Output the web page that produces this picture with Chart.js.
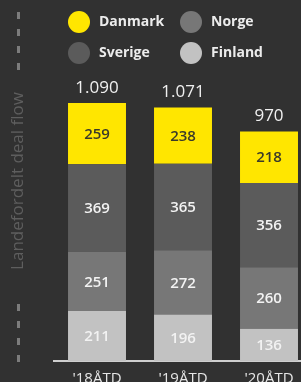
<!DOCTYPE html>
<html>
<head>
<meta charset="utf-8">
<script src="https://cdn.jsdelivr.net/npm/chart.js@4/dist/chart.umd.min.js"></script>
<style>
  html, body { margin: 0; padding: 0; background: #313131; overflow: hidden; }
  #wrap { position: relative; width: 312px; height: 397px; }
</style>
</head>
<body>
<div id="wrap"><canvas id="dealChart"></canvas></div>
<script>
// Landefordelt deal flow, antal transaktioner pr. land
const periods = ["'18ÅTD", "'19ÅTD", "'20ÅTD"];
const finland = [211, 196, 136];
const norge   = [251, 272, 260];
const sverige = [369, 365, 356];
const danmark = [259, 238, 218];
const totals  = ["1.090", "1.071", "970"];

const colors = {
    Danmark: "#ffe600",
    Norge: "#777777",
    Sverige: "#5b5b5b",
    Finland: "#c2c2c2"
};

const legendOrder = ["Danmark", "Norge", "Sverige", "Finland"];

// Tekst i segmenter + totaler over søjlerne
const labelPlugin = {
    id: "labels",
    afterDatasetsDraw(chart) {
        const ctx = chart.ctx;
        ctx.save();
        ctx.textAlign = "center";
        ctx.textBaseline = "middle";
        chart.data.datasets.forEach((ds, i) => {
            const meta = chart.getDatasetMeta(i);
            meta.data.forEach((bar, j) => {
                const mid = (bar.y + bar.base) / 2;
                ctx.fillStyle = ds.label === "Danmark" ? "#3a3a2a" : "#f2f2f2";
                ctx.font = "600 15px 'Open Sans'";
                ctx.fillText(ds.data[j], bar.x, mid + 1);
            });
        });
        const top = chart.getDatasetMeta(chart.data.datasets.length - 1);
        top.data.forEach((bar, j) => {
            ctx.fillStyle = "#f0f0f0";
            ctx.font = "17px 'Open Sans'";
            ctx.fillText(totals[j], bar.x, bar.y - 15);
        });
        ctx.restore();
    }
};

// Legende i to kolonner + lodret aksetitel med stiplede linjer
const framePlugin = {
    id: "frame",
    afterDraw(chart) {
        const ctx = chart.ctx;
        ctx.save();
        legendOrder.forEach((name, k) => {
            const cx = k % 2 === 0 ? 79 : 191;
            const cy = k < 2 ? 22 : 53;
            ctx.fillStyle = colors[name];
            ctx.beginPath();
            ctx.arc(cx, cy, 11, 0, Math.PI * 2);
            ctx.fill();
            ctx.fillStyle = "#ececec";
            ctx.font = "bold 14px 'Open Sans'";
            ctx.textAlign = "left";
            ctx.textBaseline = "middle";
            ctx.fillText(name, cx + 20, cy);
        });
        ctx.restore();

        ctx.save();
        ctx.translate(18, 181);
        ctx.rotate(-Math.PI / 2);
        ctx.fillStyle = "#5e5e5e";
        ctx.font = "17px 'Open Sans'";
        ctx.textAlign = "center";
        ctx.textBaseline = "middle";
        ctx.fillText("Landefordelt deal flow", 0, 0);
        ctx.restore();

        // stiplede linjer over og under titlen
        ctx.save();
        ctx.fillStyle = "#7c7c7c";
        [12, 304].forEach(start => {
            for (let y = start; y < start + 54; y += 17) {
                ctx.fillRect(17, y, 3, 7);
            }
        });
        ctx.restore();
    }
};

new Chart(document.getElementById("dealChart"), {
    type: "bar",
    data: {
        labels: periods,
        datasets: [
            { label: "Finland", data: finland, backgroundColor: colors.Finland },
            { label: "Norge", data: norge, backgroundColor: colors.Norge },
            { label: "Sverige", data: sverige, backgroundColor: colors.Sverige },
            { label: "Danmark", data: danmark, backgroundColor: colors.Danmark }
        ]
    },
    options: {
        responsive: true,
        maintainAspectRatio: false,
        animation: false,
        layout: { padding: { left: 54, right: 0, top: 77, bottom: 0 } },
        datasets: {
            bar: { barPercentage: 0.674, categoryPercentage: 1, borderWidth: 0 }
        },
        plugins: {
            legend: { display: false },
            tooltip: { enabled: false }
        },
        scales: {
            x: {
                stacked: true,
                grid: { display: false, drawTicks: false },
                border: { display: true, color: "#cfcfcf", width: 2 },
                ticks: {
                    color: "#e6e6e6",
                    padding: 9,
                    font: { family: "'Open Sans'", size: 15 }
                }
            },
            y: {
                stacked: true,
                display: false,
                min: 0,
                max: 1200
            }
        }
    },
    plugins: [labelPlugin, framePlugin]
});
</script>
</body>
</html>
